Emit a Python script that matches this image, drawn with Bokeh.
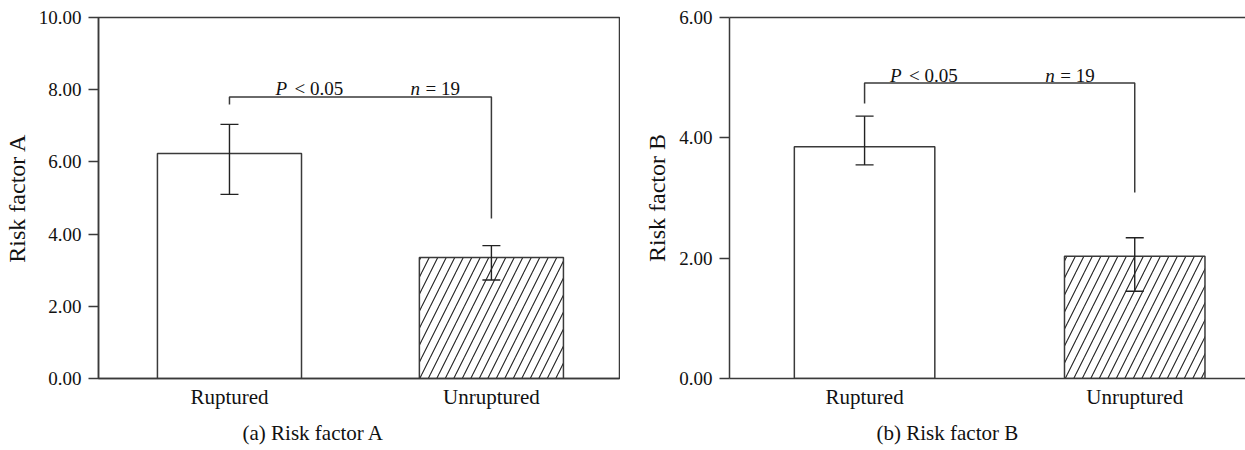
from bokeh.plotting import figure
from bokeh.layouts import row
from bokeh.models import (Range1d, FixedTicker, NumeralTickFormatter, Whisker, TeeHead,
                          ColumnDataSource, Title, LinearAxis)
from bokeh.core.properties import value
from bokeh.embed import file_html
from bokeh.resources import INLINE

# ---- data -------------------------------------------------------------
categories = ["Ruptured", "Unruptured"]

risk_a_mean = [6.23, 3.35]
risk_a_upper = [7.04, 3.68]
risk_a_lower = [5.10, 2.73]
# significance bracket: left foot, bar level, right foot
risk_a_bracket = [7.59, 7.80, 4.43]

risk_b_mean = [3.85, 2.03]
risk_b_upper = [4.36, 2.34]
risk_b_lower = [3.55, 1.45]
risk_b_bracket = [4.57, 4.91, 3.09]

a_ticks = [0, 2, 4, 6, 8, 10]
b_ticks = [0, 2, 4, 6]

p_text = "< 0.05"
n_text = "= 19"

FONT = "Liberation Serif"
LINE = "#3a3a3a"
xpos = [0.5, 1.5]


def panel(mean, upper, lower, bracket, ticks, ylabel, caption, *,
          frame_w, left_border, right_border, x_end, bar_w,
          p_x, n_x, cap_offset, full_outline):
    ymax = ticks[-1]
    p = figure(frame_width=frame_w, frame_height=361, title=None,
               min_border_left=left_border, min_border_right=right_border,
               min_border_top=17, min_border_bottom=72,
               x_range=Range1d(0, x_end), y_range=Range1d(0, ymax),
               output_backend="svg", toolbar_location=None,
               background_fill_color="white", border_fill_color="white")
    p.grid.visible = False

    # axes
    yax = p.left[0]
    yax.ticker = FixedTicker(ticks=ticks)
    yax.formatter = NumeralTickFormatter(format="0.00")
    yax.axis_label = ylabel
    yax.axis_label_text_font = FONT
    yax.axis_label_text_font_style = "normal"
    yax.axis_label_text_font_size = "24px"
    yax.axis_label_text_color = "#111"
    yax.axis_label_standoff = 6
    yax.major_label_text_font = FONT
    yax.major_label_text_font_size = "19px"
    yax.major_label_text_color = "#111"
    yax.major_tick_in = 0
    yax.major_tick_out = 10
    yax.major_label_standoff = 7
    yax.minor_tick_line_color = None
    yax.axis_line_color = LINE
    yax.axis_line_width = 1.5
    yax.major_tick_line_color = LINE
    yax.major_tick_line_width = 1.5

    xax = p.below[0]
    xax.ticker = FixedTicker(ticks=xpos)
    xax.major_label_overrides = {xpos[i]: categories[i] for i in range(len(categories))}
    xax.major_label_text_font = FONT
    xax.major_label_text_font_size = "21px"
    xax.major_label_text_color = "#111"
    xax.major_tick_line_color = None
    xax.major_tick_in = 0
    xax.major_tick_out = 0
    xax.major_label_standoff = 6
    xax.minor_tick_line_color = None
    xax.axis_line_color = LINE
    xax.axis_line_width = 1.5

    # panel caption under the category labels
    p.add_layout(Title(text=caption, align="left", offset=cap_offset,
                       text_font=FONT, text_font_size="21px",
                       text_font_style="normal", text_color="#111",
                       standoff=15), "below")

    if full_outline:
        p.outline_line_color = LINE
        p.outline_line_width = 1.5
    else:
        p.outline_line_color = None
        top = LinearAxis(ticker=FixedTicker(ticks=[]), axis_line_color=LINE,
                         axis_line_width=1.5, major_tick_line_color=None,
                         minor_tick_line_color=None, major_label_text_font_size="0px")
        p.add_layout(top, "above")

    src = ColumnDataSource(dict(x=xpos, top=mean, upper=upper, lower=lower))
    # plain bar for the first group, hatched bar for the second
    p.vbar(x=[xpos[0]], top=[mean[0]], width=bar_w, bottom=0,
           fill_color="white", line_color=LINE, line_width=1.5)
    p.vbar(x=[xpos[1]], top=[mean[1]], width=bar_w, bottom=0,
           fill_color="white", line_color=LINE, line_width=1.5,
           hatch_pattern="/", hatch_scale=17, hatch_weight=1.1, hatch_color="#222")

    whisk = Whisker(source=src, base="x", upper="upper", lower="lower",
                    line_color="#222", line_width=1.4, level="overlay",
                    upper_head=TeeHead(size=18, line_color="#222", line_width=1.4),
                    lower_head=TeeHead(size=18, line_color="#222", line_width=1.4))
    p.add_layout(whisk)

    # significance bracket
    p.line(x=[xpos[0], xpos[0], xpos[1], xpos[1]],
           y=[bracket[0], bracket[1], bracket[1], bracket[2]],
           line_color=LINE, line_width=1.5)

    by = bracket[1]
    p.text(x=[p_x], y=[by], text=["P"], text_font=value(FONT),
           text_font_style="italic", text_font_size="19px",
           text_baseline="alphabetic", text_align="left", y_offset=-8, text_color="#111")
    p.text(x=[p_x], y=[by], text=[p_text], text_font=value(FONT),
           text_font_size="19px", text_baseline="alphabetic", text_align="left",
           x_offset=19, y_offset=-8, text_color="#111")
    p.text(x=[n_x], y=[by], text=["n"], text_font=value(FONT),
           text_font_style="italic", text_font_size="19px",
           text_baseline="alphabetic", text_align="left", y_offset=-8, text_color="#111")
    p.text(x=[n_x], y=[by], text=[n_text], text_font=value(FONT),
           text_font_size="19px", text_baseline="alphabetic", text_align="left",
           x_offset=15, y_offset=-8, text_color="#111")
    return p


pa = panel(risk_a_mean, risk_a_upper, risk_a_lower, risk_a_bracket, a_ticks,
           "Risk factor A", "(a)  Risk factor A",
           frame_w=521, left_border=98, right_border=1, x_end=1.989, bar_w=0.55,
           p_x=0.676, n_x=1.191, cap_offset=144, full_outline=True)
pb = panel(risk_b_mean, risk_b_upper, risk_b_lower, risk_b_bracket, b_ticks,
           "Risk factor B", "(b)  Risk factor B",
           frame_w=516, left_border=109, right_border=0, x_end=1.91, bar_w=0.52,
           p_x=0.594, n_x=1.169, cap_offset=147, full_outline=False)

layout = row(pa, pb)
open("out.html", "w").write(file_html(layout, INLINE))
